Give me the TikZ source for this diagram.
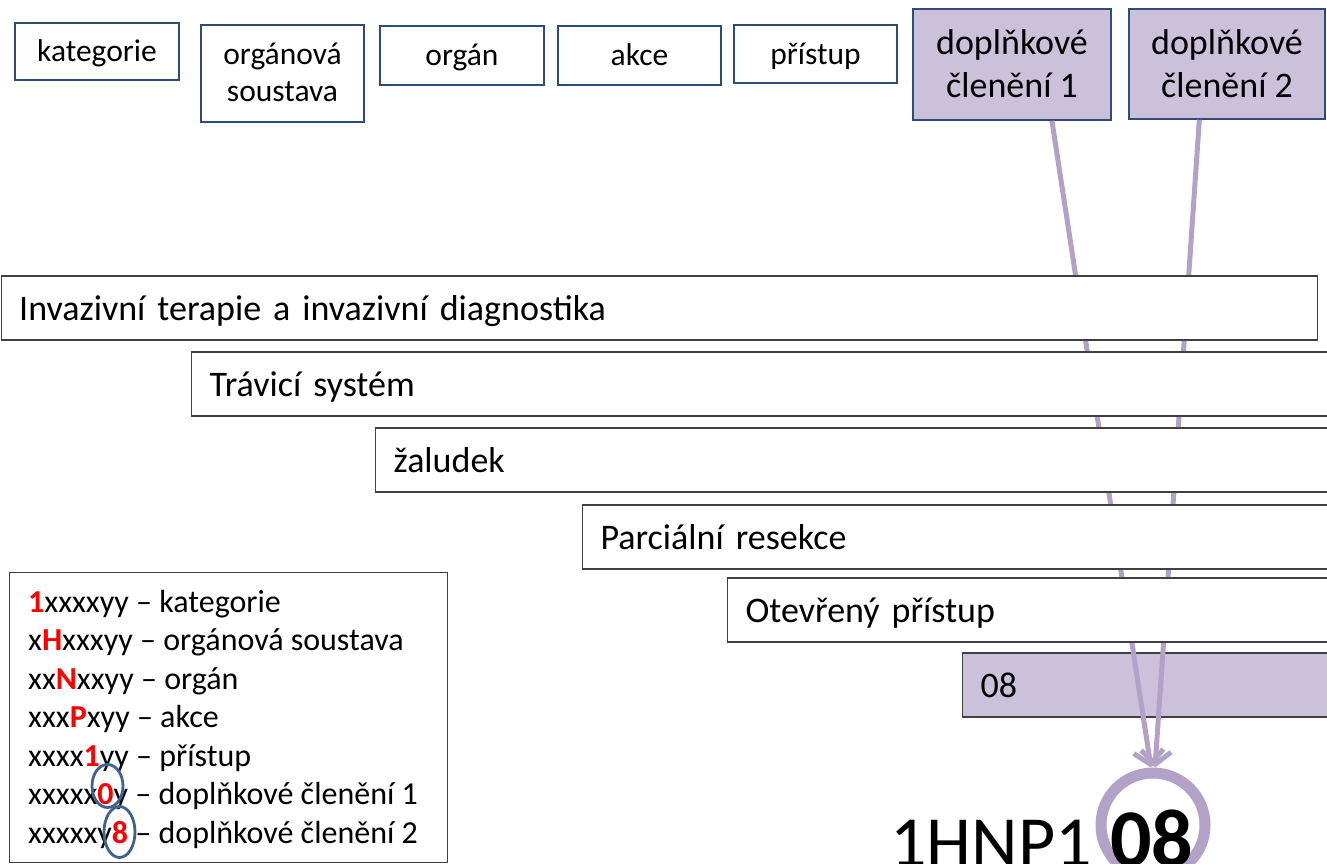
\documentclass[tikz,border=0pt]{standalone}
\usepackage{fontspec}
\setmainfont{Carlito}
\usetikzlibrary{arrows.meta,shapes.geometric,calc}
\definecolor{navy}{HTML}{2F4B7A}
\definecolor{lav}{HTML}{CCC1DA}
\definecolor{lavline}{HTML}{B3A2C7}
\definecolor{bord}{HTML}{404040}
\definecolor{ell}{HTML}{3E6191}
\definecolor{hired}{HTML}{FF0000}
\newcommand{\hl}[1]{\textcolor{hired}{\textbf{#1}}}
\begin{document}
\begin{tikzpicture}[x=1pt,y=-1pt,
  topbox/.style={draw=navy, line width=1.6pt, fill=white, inner sep=0pt,
    font=\fontsize{31.5}{37}\selectfont, text height=25pt, text depth=4pt, align=center},
  dopbox/.style={draw=navy, line width=1.6pt, fill=lav, inner sep=0pt,
    font=\fontsize{36}{43}\selectfont, text height=71pt, text depth=4pt, align=center},
  bar/.style={draw=bord, line width=1.2pt, fill=white, minimum height=64pt,
    inner xsep=18pt, inner ysep=0pt, font=\fontsize{36}{43}\selectfont,
    text height=28pt, text depth=4pt, anchor=west, align=left},
  conn/.style={draw=lavline, line width=5pt, -{Straight Barb[length=13pt,width=30pt]}},
  lg/.style={anchor=base west, inner sep=0pt, font=\fontsize{32}{38}\selectfont},
  oval/.style={ellipse, draw=ell, line width=2.8pt, inner sep=0pt}]
\useasboundingbox (0,0) rectangle (1327,864);
\clip (0,0) rectangle (1327,864);
% top boxes
\node[topbox, minimum width=164pt, minimum height=57pt] (kat) at (97,51.5) {kategorie};
\node[topbox, minimum width=163pt, minimum height=97pt, text height=62pt, text depth=5pt] (sou) at (282.5,73.5) {orgánová\\soustava};
\node[topbox, minimum width=164pt, minimum height=59pt] (org) at (462,55.5) {orgán};
\node[topbox, minimum width=163pt, minimum height=59pt] (akc) at (639.5,55.5) {akce};
\node[topbox, minimum width=163pt, minimum height=58pt] (pri) at (815.5,54) {přístup};
\node[dopbox, minimum width=198pt, minimum height=111pt] (d1) at (1012,64.5) {doplňkové\\členění 1};
\node[dopbox, minimum width=196pt, minimum height=110pt] (d2) at (1227,64) {doplňkové\\členění 2};
% purple bar
\node[bar, fill=lav, text width=364pt] (b6) at (962,685) {08};
% ring
\node[circle, draw=lavline, line width=11pt, minimum size=104pt, inner sep=0pt] (ring) at (1153,825) {};
% connectors
\coordinate (a1s) at ($(d1.south west)!0.70!(d1.south east)$);
\coordinate (a2s) at ($(d2.south west)!0.36!(d2.south east)$);
\draw[conn] (a1s) -- ($(ring.north)+(-2,0)$);
\draw[conn] (a2s) -- ($(ring.north)+(2,0)$);
% white bars
\node[bar, text width=1280pt] (b1) at (0.6,308) {Invazivní terapie a invazivní diagnostika};
\node[bar, text width=1200pt] (b2) at (191,384) {Trávicí systém};
\node[bar, text width=1000pt] (b3) at (375,460) {žaludek};
\node[bar, text width=800pt] (b4) at (582,537) {Parciální resekce};
\node[bar, text width=650pt] (b5) at (727,610) {Otevřený přístup};
% legend
\node[draw=bord, line width=1.2pt, fill=white, minimum width=438pt, minimum height=290pt, anchor=north west, inner sep=0pt] (leg) at (9,572) {};
\node[lg] (l1) at (28,612) {\hl{1}xxxxyy – kategorie};
\node[lg] (l2) at (28,650.5) {x\hl{H}xxxyy – orgánová soustava};
\node[lg] (l3) at (28,689) {xx\hl{N}xxyy – orgán};
\node[lg] (l4) at (28,727.5) {xxx\hl{P}xyy – akce};
\node[lg] (l5) at (28,766) {xxxx\hl{1}yy – přístup};
\node[lg] (l6) at (28,804.5) {xxxxx\hl{0}y – doplňkové členění 1};
\node[lg] (l7) at (28,843) {xxxxxy\hl{8} – doplňkové členění 2};
\node[oval, minimum width=31pt, minimum height=43pt] (e1) at (107.5,786) {};
\node[oval, minimum width=31pt, minimum height=51pt] (e2) at (119.5,832) {};
% code
\node[anchor=base east, inner sep=0pt, font=\fontsize{72}{80}\selectfont] (code) at (1092,866) {1HNP1};
\node[anchor=base west, inner sep=0pt, font=\bfseries\fontsize{82}{90}\selectfont] (codeb) at (1110,866) {08};
\end{tikzpicture}
\end{document}
